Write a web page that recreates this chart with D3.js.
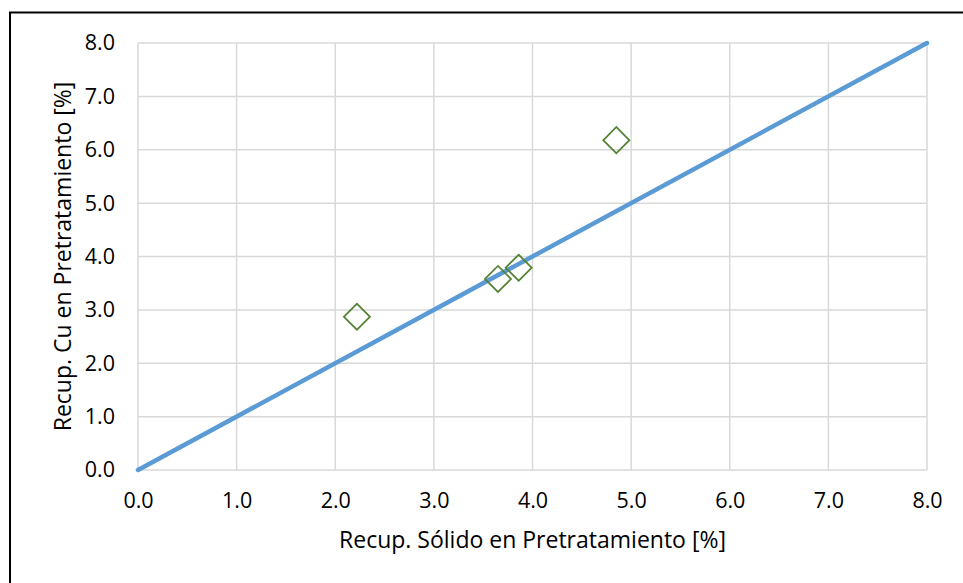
<!DOCTYPE html>
<html>
<head>
<meta charset="utf-8">
<script src="https://cdn.jsdelivr.net/npm/d3@7"></script>
<style>
  html, body { margin: 0; padding: 0; background: #fff; }
  svg { display: block; font-family: "Open Sans", sans-serif; }
</style>
</head>
<body>
<svg id="chart" width="963" height="583"></svg>
<script>
// Recovery data: solids recovered vs. copper recovered in pretreatment
const solidRecovery = [2.22, 3.65, 3.86, 4.85];
const cuRecovery = [2.87, 3.58, 3.79, 6.18];
// Reference 1:1 line
const identityLine = [[0, 0], [8, 8]];
const tickValues = [0, 1, 2, 3, 4, 5, 6, 7, 8];
const xTitle = "Recup. Sólido en Pretratamiento [%]";
const yTitle = "Recup. Cu en Pretratamiento [%]";

const FONT = "'Open Sans', sans-serif";
const svg = d3.select("#chart");
const W = 963, H = 583;
const m = { left: 138, right: 36, top: 43, bottom: 113 };

// Outer frame
svg.append("rect")
  .attr("x", 10).attr("y", 12.5)
  .attr("width", W + 10).attr("height", H + 10)
  .attr("fill", "#fff").attr("stroke", "#000").attr("stroke-width", 2);

const x = d3.scaleLinear().domain([0, 8]).range([m.left, W - m.right]);
const y = d3.scaleLinear().domain([0, 8]).range([H - m.bottom, m.top]);

// Gridlines
const grid = svg.append("g").attr("stroke", "#d9d9d9").attr("stroke-width", 1.5);
grid.selectAll("line.v").data(tickValues).join("line")
  .attr("class", "v")
  .attr("x1", d => x(d)).attr("x2", d => x(d))
  .attr("y1", y(0)).attr("y2", y(8));
grid.selectAll("line.h").data(tickValues).join("line")
  .attr("class", "h")
  .attr("x1", x(0)).attr("x2", x(8))
  .attr("y1", d => y(d)).attr("y2", d => y(d));

// Axes (labels only)
const fmt = d3.format(".1f");
const xAxis = svg.append("g")
  .attr("transform", `translate(0,${y(0)})`)
  .call(d3.axisBottom(x).tickValues(tickValues).tickFormat(fmt).tickSize(0).tickPadding(23));
const yAxis = svg.append("g")
  .attr("transform", `translate(${x(0)},0)`)
  .call(d3.axisLeft(y).tickValues(tickValues).tickFormat(fmt).tickSize(0).tickPadding(23));
[xAxis, yAxis].forEach(g => {
  g.select(".domain").remove();
  g.selectAll("text").attr("font-size", 21.5).attr("fill", "#000")
    .attr("font-family", FONT).attr("font-weight", 400);
});

// 1:1 line
svg.append("path")
  .datum(identityLine)
  .attr("fill", "none")
  .attr("stroke", "#5b9bd5")
  .attr("stroke-width", 4.5)
  .attr("stroke-linecap", "round")
  .attr("d", d3.line().x(d => x(d[0])).y(d => y(d[1])));

// Data points as hollow diamonds
const pts = solidRecovery.map((v, i) => [v, cuRecovery[i]]);
svg.append("g").selectAll("path").data(pts).join("path")
  .attr("transform", d => `translate(${x(d[0])},${y(d[1])}) rotate(45)`)
  .attr("d", d3.symbol().type(d3.symbolSquare).size(340))
  .attr("fill", "none")
  .attr("stroke", "#548235")
  .attr("stroke-width", 1.75);

// Axis titles
svg.append("text")
  .attr("x", (x(0) + x(8)) / 2).attr("y", 548)
  .attr("text-anchor", "middle").attr("font-size", 23).attr("fill", "#000")
  .attr("font-family", FONT)
  .text(xTitle);
svg.append("text")
  .attr("transform", `translate(71,${(y(0) + y(8)) / 2}) rotate(-90)`)
  .attr("text-anchor", "middle").attr("font-size", 23).attr("fill", "#000")
  .attr("font-family", FONT)
  .text(yTitle);
</script>
</body>
</html>
